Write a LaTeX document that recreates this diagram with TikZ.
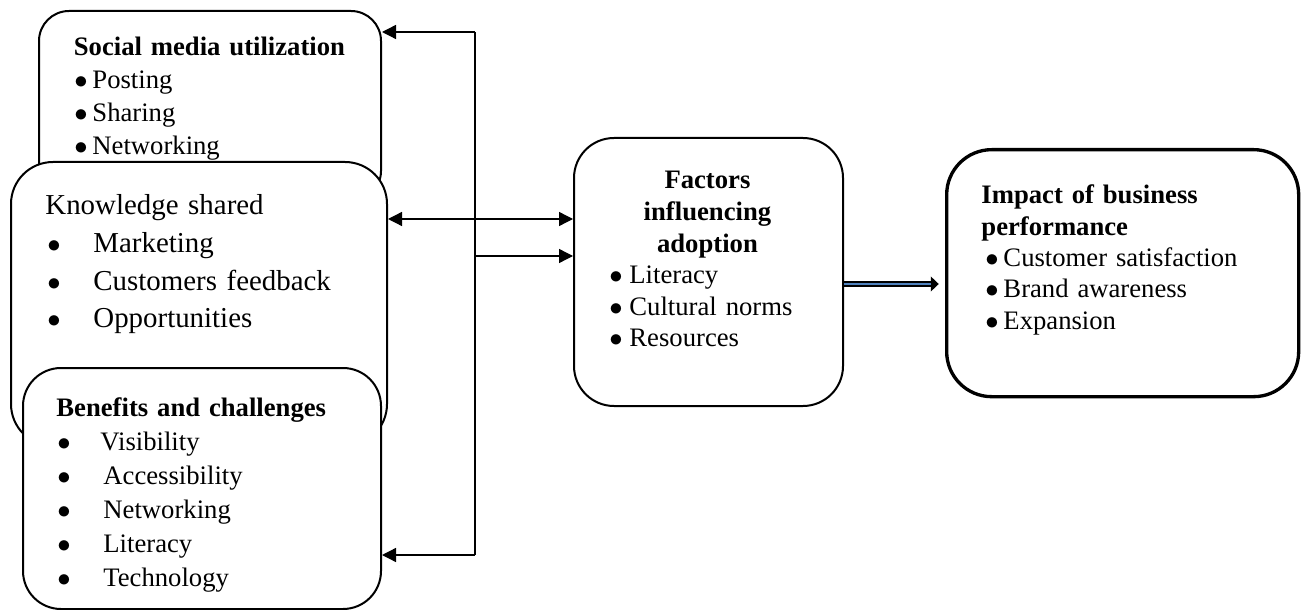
\documentclass[tikz,border=0pt]{standalone}
\usepackage{fontspec}
\setmainfont{Liberation Serif}
\usepackage{tikz}
\usetikzlibrary{calc,positioning,arrows.meta}
\newlength{\px}
\setlength{\px}{0.45pt}
\newcommand{\bul}[1]{\makebox[#1][l]{$\bullet$}}
\definecolor{wordblue}{HTML}{4F81BD}
\tikzstyle{link} = [line width=0.6pt, >={Triangle[length=6.3pt, width=6.3pt]}]
\tikzstyle{bigarrow} = [line width=3pt, -{Triangle[length=3.6pt, width=6.6pt]}]

\begin{document}
\begin{tikzpicture}[x=\px, y=-\px]
\tikzset{%
	panel/.style = {rectangle, draw=black, fill=white, line width=0.9pt, rounded corners=36\px, inner sep=0pt, anchor=north west},
	body/.style = {inner sep=0pt, anchor=base west, font=\fontsize{12pt}{14.8pt}\selectfont}
}
\useasboundingbox (0,0) rectangle (1304,610);

% left column, drawn back to front
\node(sm) [panel, minimum width=342\px, minimum height=190\px, rounded corners=30\px] at (38,10) {};
\node(smt) [body, text width=300\px] at (59,56) {\centering\textbf{Social media utilization}\par
	\raggedright\hspace*{15\px}\bul{18\px}Posting\\ \hspace*{15\px}\bul{18\px}Sharing\\ \hspace*{15\px}\bul{18\px}Networking};

\node(ks) [panel, minimum width=376\px, minimum height=284\px, rounded corners=42\px] at (10,161) {};
\node(kst) [body, text width=340\px, font=\fontsize{13pt}{16.9pt}\selectfont] at (45,215) {\raggedright Knowledge shared\\
	\hspace*{2\px}\bul{46\px}Marketing\\ \hspace*{2\px}\bul{46\px}Customers feedback\\ \hspace*{2\px}\bul{46\px}Opportunities};

\node(bc) [panel, minimum width=358\px, minimum height=241\px, rounded corners=38\px] at (22,367) {};
\node(bct) [body, text width=320\px, font=\fontsize{12pt}{15.3pt}\selectfont] at (56,416) {\raggedright\textbf{Benefits and challenges}\\
	\hspace*{1\px}\bul{43\px}Visibility\\ \hspace*{1\px}\bul{46\px}Accessibility\\ \hspace*{1\px}\bul{46\px}Networking\\
	\hspace*{1\px}\bul{46\px}Literacy\\ \hspace*{1\px}\bul{46\px}Technology};

% middle and right
\node(fa) [panel, minimum width=269\px, minimum height=268\px, rounded corners=40\px] at (573,137) {};
\node(fat) [body, text width=190\px, font=\fontsize{12pt}{14.2pt}\selectfont] at (612,189) {\centering\textbf{Factors\\ influencing\\ adoption}\par
	\raggedright\hspace*{-3\px}\bul{20\px}Literacy\\ \hspace*{-3\px}\bul{20\px}Cultural norms\\ \hspace*{-3\px}\bul{20\px}Resources};

\node(ip) [panel, line width=1.5pt, minimum width=352\px, minimum height=247\px, rounded corners=45\px] at (945,148) {};
\node(ipt) [body, text width=310\px, font=\fontsize{12pt}{14.1pt}\selectfont] at (981,204) {\raggedright\textbf{Impact of business\\ performance}\\
	\hspace*{4\px}\bul{18\px}Customer satisfaction\\ \hspace*{4\px}\bul{18\px}Brand awareness\\ \hspace*{4\px}\bul{18\px}Expansion};

% connectors
\coordinate(jt) at (475,32);
\coordinate(jm) at (475,256);
\coordinate(jb) at (475,555);
\coordinate(ka) at (480,219);
\coordinate(da) at (900,284);

\draw [link] (jt) -- (jb);
\draw [link, ->] (jt) -- (jt -| sm.east);
\draw [link, ->] (jm) -- (jm -| fa.west);
\draw [link, ->] (jb) -- (jb -| bc.east);
\draw [link, <->] (ka -| ks.east) -- (ka -| fa.west);

\draw [bigarrow, shorten >=2.8pt] (da -| fa.east) -- (da -| ip.west);
\draw [line width=1.3pt, wordblue, shorten >=6.5pt] (da -| fa.east) -- (da -| ip.west);
\end{tikzpicture}
\end{document}
